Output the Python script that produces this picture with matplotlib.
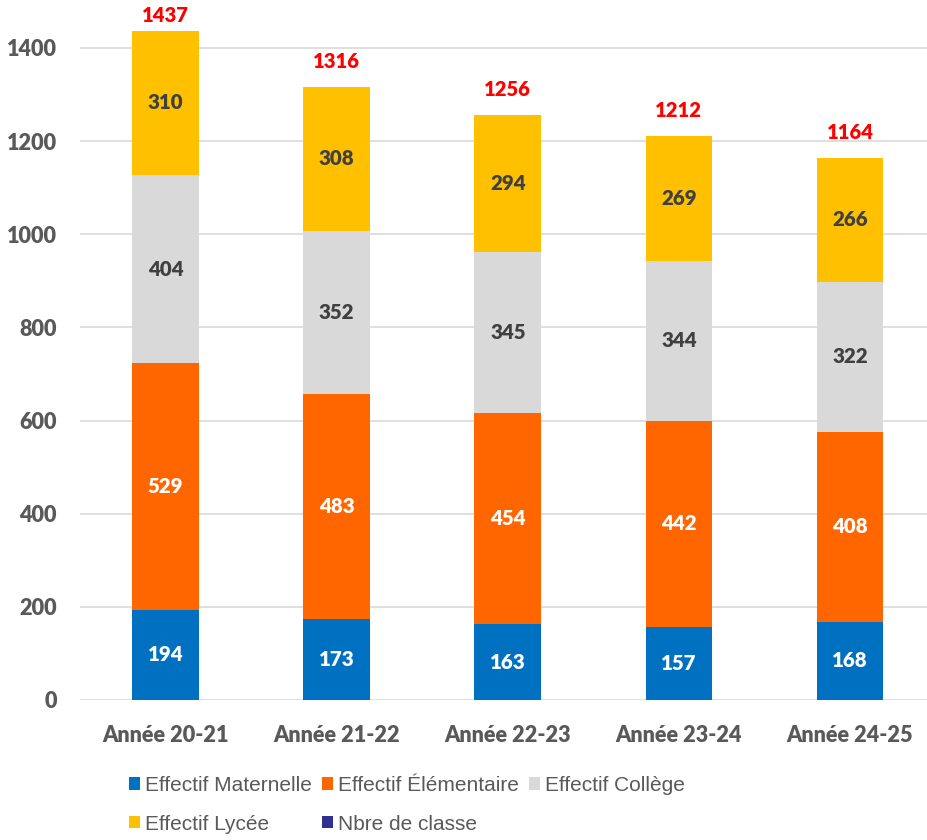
import matplotlib.pyplot as plt
import numpy as np
from matplotlib.patches import Patch

annees = ["Année 20-21", "Année 21-22", "Année 22-23", "Année 23-24", "Année 24-25"]
maternelle = [194, 173, 163, 157, 168]
elementaire = [529, 483, 454, 442, 408]
college = [404, 352, 345, 344, 322]
lycee = [310, 308, 294, 269, 266]

series = [
    ("Effectif Maternelle", maternelle, "#0070C0", "white"),
    ("Effectif Élémentaire", elementaire, "#FF6600", "white"),
    ("Effectif Collège", college, "#D9D9D9", "#404040"),
    ("Effectif Lycée", lycee, "#FFC000", "#404040"),
]

lab_font = ["Lato", "DejaVu Sans"]
leg_font = ["Liberation Sans Narrow", "Liberation Sans", "DejaVu Sans"]

fig = plt.figure(figsize=(9.27, 8.4), dpi=100)
ax = fig.add_axes([80 / 927, 140 / 840, 847 / 927, 698.6 / 840])

x = np.arange(len(annees))
width = 0.39
bottom = np.zeros(len(annees))
patches = {}
for name, vals, color, tcol in series:
    bars = ax.bar(x, vals, width, bottom=bottom, color=color, zorder=3)
    ax.bar_label(bars, labels=[str(v) for v in vals], label_type="center",
                 color=tcol, fontsize=14.8, fontweight="heavy", family=lab_font)
    bottom += np.array(vals)
    patches[name] = Patch(facecolor=color, label=name)
patches["Nbre de classe"] = Patch(facecolor="#2E3192", label="Nbre de classe")

# totals above bars (the highest one is pulled down to stay inside the chart)
totals = bottom
for xi, t in zip(x, totals):
    ax.text(xi, min(t + 54, 1470), str(int(t)), ha="center", va="center", color="#FF0000",
            fontsize=14.6, fontweight="heavy", family=lab_font)

ax.set_xlim(-0.5, 4.45)
ax.set_ylim(0, 1500)
ax.set_yticks(np.arange(0, 1401, 200))
ax.set_xticks(x, annees)
ax.grid(axis="y", color="#D9D9D9", linewidth=1.2, zorder=0)
for s in ax.spines.values():
    s.set_visible(False)
ax.tick_params(length=0, colors="#595959", labelsize=15.6)
ax.tick_params(axis="x", pad=18)
ax.tick_params(axis="y", pad=16.5)
for lbl in ax.get_xticklabels() + ax.get_yticklabels():
    lbl.set_fontweight("heavy")
    lbl.set_family(lab_font)

# legend is filled column by column, so order items to read row by row
order = ["Effectif Maternelle", "Effectif Lycée", "Effectif Élémentaire",
         "Nbre de classe", "Effectif Collège"]
fig.legend(handles=[patches[k] for k in order], ncol=3, loc="upper left",
           bbox_to_anchor=(110 / 927, 1 - 757 / 840),
           frameon=False, prop={"family": leg_font, "size": 15}, labelcolor="#595959",
           handlelength=0.55, handleheight=0.55, handletextpad=0.25, columnspacing=0.45,
           labelspacing=0.95)

fig.savefig("out.png", dpi=100)
